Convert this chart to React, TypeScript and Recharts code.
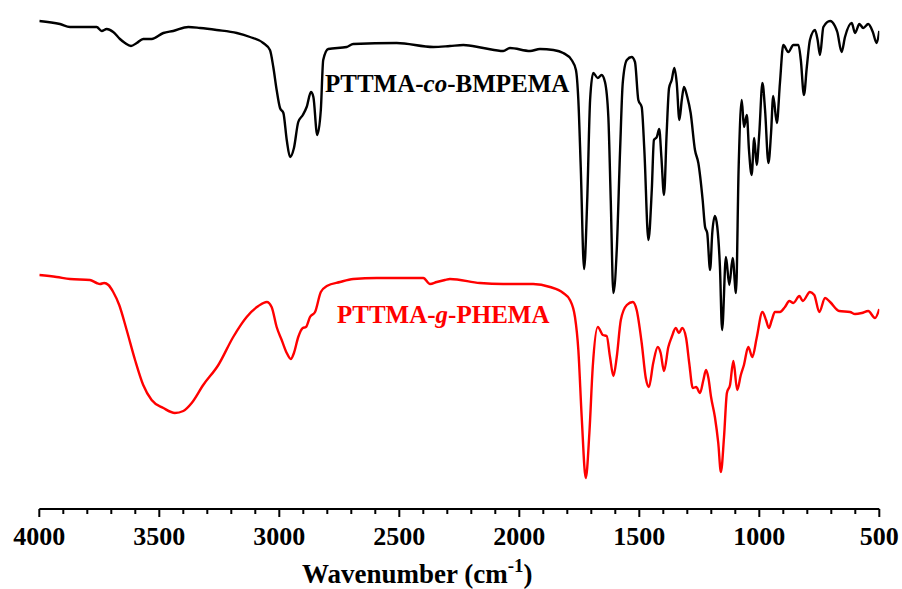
import * as React from 'react';
import { LineChart, Line, XAxis, YAxis } from 'recharts';

// wavenumber (cm-1) and transmittance (a.u., offset)
const blackWavenumbers = [
  4000, 3914, 3872, 3761, 3740, 3719, 3692, 3664, 3643, 3618, 3594, 3567, 3532, 3483, 3442, 3379,
  3330, 3261, 3177, 3122, 3067, 3039, 3025, 3011, 2997, 2983, 2969, 2955, 2939, 2921, 2902, 2886,
  2868, 2858, 2842, 2827, 2817, 2796, 2719, 2692, 2511, 2358, 2289, 2233, 2150, 2067, 2039, 1955,
  1914, 1858, 1817, 1782, 1764, 1754, 1744, 1730, 1717, 1705, 1692, 1673, 1657, 1643, 1629, 1619,
  1608, 1594, 1580, 1569, 1552, 1532, 1518, 1504, 1490, 1479, 1462, 1448, 1439, 1427, 1417, 1408,
  1397, 1386, 1376, 1365, 1354, 1344, 1333, 1323, 1314, 1300, 1286, 1268, 1254, 1236, 1226, 1217,
  1205, 1196, 1185, 1175, 1164, 1155, 1139, 1125, 1111, 1097, 1086, 1073, 1064, 1052, 1043, 1032,
  1021, 1011, 1000, 987, 976, 962, 951, 942, 927, 914, 900, 879, 858, 837, 827, 814,
  802, 789, 768, 757, 747, 733, 705, 685, 675, 657, 643, 615, 601, 583, 567, 546,
  527, 511, 500,
];
const blackValues = [
  488, 485, 482, 482, 478, 480, 477, 470, 466, 463, 466, 470, 470, 476, 478, 482,
  481, 479, 476, 472, 466, 459, 442, 419, 401, 396, 369, 352, 361, 387, 394, 402,
  417, 412, 374, 399, 449, 460, 462, 465, 466, 462, 463, 464, 461, 458, 461, 458,
  460, 459, 456, 449, 439, 409, 342, 240, 309, 409, 436, 431, 434, 427, 392, 309,
  216, 259, 359, 426, 449, 452, 447, 409, 402, 359, 269, 319, 369, 372, 380, 352,
  314, 376, 421, 429, 441, 426, 389, 409, 422, 412, 396, 359, 346, 309, 282, 276,
  239, 276, 293, 282, 242, 179, 252, 224, 251, 216, 342, 409, 382, 394, 359, 334,
  371, 344, 376, 426, 399, 346, 376, 413, 386, 426, 464, 457, 464, 464, 449, 414,
  442, 469, 479, 469, 454, 482, 488, 483, 477, 457, 472, 486, 476, 485, 481, 485,
  477, 466, 478,
];

const redWavenumbers = [
  4000, 3928, 3872, 3789, 3761, 3747, 3730, 3712, 3692, 3667, 3636, 3601, 3567, 3532, 3483, 3435,
  3400, 3365, 3317, 3254, 3192, 3136, 3087, 3052, 3032, 3011, 2990, 2969, 2952, 2939, 2921, 2902,
  2889, 2872, 2851, 2827, 2802, 2747, 2692, 2594, 2400, 2372, 2344, 2310, 2289, 2164, 2067, 1942,
  1872, 1817, 1789, 1768, 1754, 1740, 1723, 1708, 1694, 1673, 1652, 1636, 1622, 1608, 1594, 1577,
  1552, 1527, 1511, 1490, 1473, 1460, 1442, 1423, 1411, 1397, 1379, 1365, 1348, 1335, 1321, 1305,
  1292, 1277, 1263, 1247, 1233, 1222, 1212, 1201, 1185, 1171, 1160, 1147, 1135, 1122, 1108, 1092,
  1077, 1064, 1046, 1029, 1011, 987, 972, 960, 948, 935, 914, 893, 875, 858, 833, 819,
  789, 771, 750, 726, 705, 667, 622, 601, 573, 546, 518, 500,
];
const redValues = [
  234, 232, 230, 229, 226, 225, 226, 224, 217, 204, 179, 149, 124, 109, 101, 96,
  98, 106, 124, 144, 172, 192, 203, 207, 202, 182, 169, 156, 150, 156, 172, 181,
  182, 192, 197, 217, 223, 227, 230, 231, 231, 225, 227, 229, 230, 226, 225, 225,
  222, 216, 209, 192, 159, 92, 31, 76, 142, 182, 174, 173, 152, 133, 152, 189,
  204, 207, 199, 166, 131, 122, 146, 162, 156, 138, 162, 172, 181, 176, 181, 171,
  146, 121, 122, 116, 129, 139, 131, 112, 92, 66, 37, 72, 116, 124, 148, 119,
  134, 144, 162, 152, 171, 197, 189, 181, 189, 197, 197, 202, 208, 206, 213, 208,
  217, 214, 197, 211, 207, 198, 197, 195, 196, 198, 191, 200,
];

const tickValues = [4000, 3500, 3000, 2500, 2000, 1500, 1000, 500];
const minorTickValues = Array.from({ length: 36 }, (_, i) => 4000 - i * 100);

const blackData = blackWavenumbers.map((w, i) => ({ w, t: blackValues[i] }));
const redData = redWavenumbers.map((w, i) => ({ w, t: redValues[i] }));

const SERIF = '"Liberation Serif", "Times New Roman", serif';

function WaveTick(props: any) {
  const { x, y, payload } = props;
  const major = tickValues.includes(payload.value);
  return (
    <g>
      <line x1={x} y1={y} x2={x} y2={y + (major ? 8 : 5)} stroke="#000" strokeWidth={2} />
      {major && (
        <text
          x={x}
          y={y + 36}
          textAnchor="middle"
          fontFamily={SERIF}
          fontWeight="bold"
          fontSize={26}
          fill="#000"
        >
          {payload.value}
        </text>
      )}
    </g>
  );
}

export default function App() {
  return (
    <div style={{ position: 'absolute', left: 0, top: 0, width: 902, height: 589, background: '#fff' }}>
      <LineChart width={902} height={589} margin={{ top: 9, right: 22.7, left: 39.3, bottom: 0 }}>
        <XAxis
          dataKey="w"
          type="number"
          domain={[500, 4000]}
          reversed
          ticks={minorTickValues}
          interval={0}
          tickSize={0}
          tickMargin={0}
          tickLine={false}
          tick={<WaveTick />}
          axisLine={{ stroke: '#000', strokeWidth: 2 }}
          height={80}
          allowDataOverflow
        />
        <YAxis type="number" domain={[0, 500]} hide />
        <Line
          data={blackData}
          dataKey="t"
          type="monotone"
          stroke="#000"
          strokeWidth={2.4}
          dot={false}
          isAnimationActive={false}
        />
        <Line
          data={redData}
          dataKey="t"
          type="monotone"
          stroke="#ff0000"
          strokeWidth={2.4}
          dot={false}
          isAnimationActive={false}
        />
        <text x={325} y={92} fontFamily={SERIF} fontWeight="bold" fontSize={25} fill="#000">
          PTTMA-<tspan fontStyle="italic">co</tspan>-BMPEMA
        </text>
        <text x={337} y={323} fontFamily={SERIF} fontWeight="bold" fontSize={25} fill="#ff0000">
          PTTMA-<tspan fontStyle="italic">g</tspan>-PHEMA
        </text>
        <text x={302} y={583} fontFamily={SERIF} fontWeight="bold" fontSize={27} fill="#000">
          Wavenumber (cm<tspan fontSize={19} dy={-11}>-1</tspan>
          <tspan fontSize={27} dy={11}>)</tspan>
        </text>
      </LineChart>
    </div>
  );
}
